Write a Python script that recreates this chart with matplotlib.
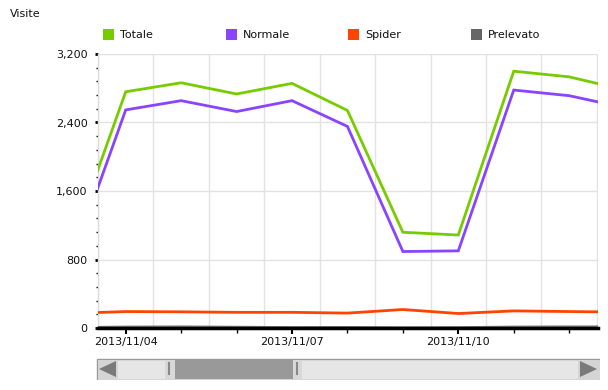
import matplotlib
matplotlib.use("Agg")
import matplotlib.pyplot as plt
from matplotlib.patches import Rectangle, Polygon
from matplotlib.ticker import MultipleLocator, FixedLocator, FuncFormatter
import numpy as np

# ---- data ----
dates = ['2013/11/03', '2013/11/04', '2013/11/05', '2013/11/06', '2013/11/07',
         '2013/11/08', '2013/11/09', '2013/11/10', '2013/11/11', '2013/11/12',
         '2013/11/13']
totale = [945, 2759, 2864, 2733, 2857, 2541, 1118, 1086, 2999, 2933, 2781]
normale = [739, 2547, 2655, 2528, 2655, 2354, 893, 901, 2779, 2713, 2573]
spider = [170, 192, 189, 183, 183, 174, 216, 169, 200, 192, 186]
prelevato = [3, 10, 12, 8, 4, 5, 2, 3, 10, 12, 12]
series_names = ['Totale', 'Normale', 'Spider', 'Prelevato']
series_colors = ['#77cc00', '#8844ff', '#ff4400', '#666666']
y_ticks = [0, 800, 1600, 2400, 3200]
label_dates = ['2013/11/04', '2013/11/07', '2013/11/10']

W, H = 608, 390
fig = plt.figure(figsize=(W / 100, H / 100), dpi=100)
fig.patch.set_facecolor('white')

def fx(px):
    return px / W

def fy(py):
    return 1 - py / H

ax = fig.add_axes([fx(98), fy(328), fx(598) - fx(98), fy(54) - fy(328)])
x = np.arange(len(dates))

ax.set_xlim(0.5, 9.52)
ax.set_ylim(0, 3200)

# grid
for v in y_ticks[1:]:
    ax.axhline(v, color='#e2e2e2', lw=1, zorder=0)
ax.vlines(np.arange(0.5, len(dates), 1.0), 0, 3200, color='#e2e2e2', lw=1, zorder=0)

for vals, c, lw in zip([prelevato, spider, normale, totale],
                       ['#777777', '#ff4400', '#8844ff', '#77cc00'],
                       [2.2, 2, 2, 2]):
    ax.plot(x, vals, color=c, lw=lw, solid_joinstyle='miter', zorder=3, clip_on=True)

# spines
for s in ['top', 'right']:
    ax.spines[s].set_visible(False)
ax.spines['left'].set_color('#dddddd')
ax.spines['left'].set_linewidth(1)
ax.spines['bottom'].set_color('black')
ax.spines['bottom'].set_linewidth(2.5)
ax.spines['bottom'].set_zorder(4)

# y ticks
ax.yaxis.set_major_locator(FixedLocator(y_ticks))
ax.yaxis.set_minor_locator(MultipleLocator(160))
ax.yaxis.set_major_formatter(FuncFormatter(lambda v, p: f'{int(v):,}'))
ax.tick_params(axis='y', which='major', length=2.5, width=2, color='black',
               pad=5, labelsize=8, labelcolor='#111111')
ax.tick_params(axis='y', which='minor', length=1.5, width=1, color='black')

# x ticks
major_pos = [dates.index(d) for d in label_dates]
minor_pos = [i for i in range(len(dates)) if i not in major_pos]
ax.xaxis.set_major_locator(FixedLocator(major_pos))
ax.xaxis.set_minor_locator(FixedLocator(minor_pos))
ax.set_xticklabels(label_dates)
ax.tick_params(axis='x', which='major', length=4.5, width=1.5, color='black',
               pad=2, labelsize=8, labelcolor='#111111')
ax.tick_params(axis='x', which='minor', length=3.5, width=1, color='black')

# title
fig.text(fx(10), fy(14), 'Visite', fontsize=8, color='#111111', va='center', ha='left')

# legend
for i, (name, c) in enumerate(zip(series_names, series_colors)):
    x0 = 103 + i * 122.5
    fig.add_artist(Rectangle((fx(x0), fy(40)), fx(11), fy(29) - fy(40),
                             transform=fig.transFigure, facecolor=c, edgecolor='none'))
    fig.text(fx(x0 + 17), fy(34.5), name, fontsize=8, color='#111111',
             va='center', ha='left')

# scrollbar
sb = fig.add_axes([fx(96), fy(380), fx(600) - fx(96), fy(358) - fy(380)])
sb.set_xlim(96, 600)
sb.set_ylim(380, 358)
sb.axis('off')
sb.add_patch(Rectangle((96.5, 358.5), 503, 21, facecolor='#e6e6e6', edgecolor='#999999', lw=1))
sb.add_patch(Rectangle((97.5, 359.5), 20, 19, facecolor='#d4d4d4', edgecolor='none'))
sb.add_patch(Polygon([[99, 369], [116, 361], [116, 377]], closed=True, facecolor='#7a7a7a', edgecolor='none'))
sb.add_patch(Rectangle((578, 359.5), 21, 19, facecolor='#d4d4d4', edgecolor='none'))
sb.add_patch(Polygon([[597, 369], [580, 361], [580, 377]], closed=True, facecolor='#7a7a7a', edgecolor='none'))
sb.add_patch(Rectangle((165, 359.5), 10, 19, facecolor='#d8d8d8', edgecolor='none'))
sb.add_patch(Rectangle((293, 359.5), 9, 19, facecolor='#d8d8d8', edgecolor='none'))
sb.add_patch(Rectangle((175, 359.5), 118, 19, facecolor='#999999', edgecolor='none'))
sb.plot([169, 169], [363, 374], color='#888888', lw=1.5)
sb.plot([297, 297], [363, 374], color='#888888', lw=1.5)

fig.savefig('out.png', dpi=100, facecolor='white')
